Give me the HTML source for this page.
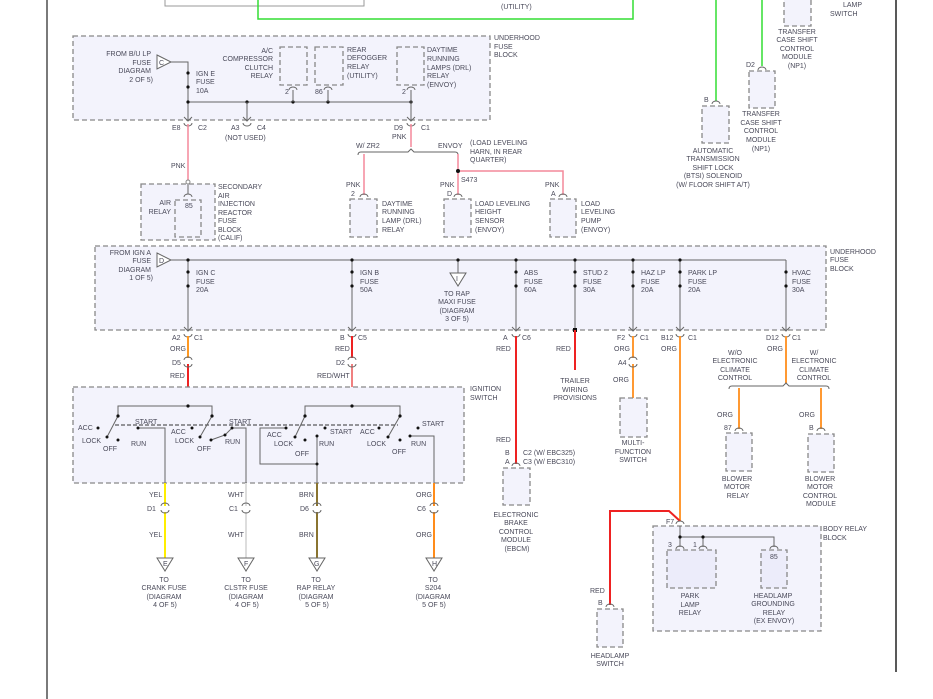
<!DOCTYPE html>
<html><head><meta charset="utf-8"><style>
body{margin:0;background:#fff;width:933px;height:699px;overflow:hidden}
svg{display:block}
text{font-family:"Liberation Sans",sans-serif;font-size:7px;fill:#4a4a5a}
.b{fill:#f3f3fc;stroke:#888;stroke-width:1.3;stroke-dasharray:5,3}
.w{stroke:#666;stroke-width:1;fill:none}
.d{fill:#111}
.m{text-anchor:middle}
.e{text-anchor:end}
</style></head><body>
<svg width="933" height="699" viewBox="0 0 933 699" xmlns="http://www.w3.org/2000/svg">
<line x1="47" y1="0" x2="47" y2="699" stroke="#222" stroke-width="1.2"/>
<line x1="896" y1="0" x2="896" y2="672" stroke="#222" stroke-width="1.5"/>
<!-- top -->
<polyline points="165,0 165,6 364,6 364,0" fill="none" stroke="#999" stroke-width="1"/>
<polyline points="258,0 258,19 633,19 633,0" fill="none" stroke="#33dd33" stroke-width="1.5"/>
<text x="501" y="9">(UTILITY)</text>
<line x1="716" y1="0" x2="716" y2="101" stroke="#33dd33" stroke-width="1.5"/>
<line x1="762" y1="0" x2="762" y2="66" stroke="#33dd33" stroke-width="1.5"/>
<rect class="b" x="784" y="-5" width="27" height="31"/>
<text x="843" y="7">LAMP</text><text x="830" y="16">SWITCH</text>
<g class="m"><text x="797" y="34">TRANSFER</text><text x="797" y="42">CASE SHIFT</text><text x="797" y="51">CONTROL</text><text x="797" y="59">MODULE</text><text x="797" y="68">(NP1)</text></g>
<text x="746" y="67">D2</text><path d="M758,70 a4,3 0 0 1 8,0" class="w"/>
<rect class="b" x="749" y="71" width="26" height="37"/>
<g class="m"><text x="761" y="116">TRANSFER</text><text x="761" y="125">CASE SHIFT</text><text x="761" y="133">CONTROL</text><text x="761" y="142">MODULE</text><text x="761" y="151">(NP1)</text></g>
<text x="704" y="102">B</text><path d="M712,104 a4,3 0 0 1 8,0" class="w"/>
<rect class="b" x="702" y="106" width="27" height="37"/>
<g class="m"><text x="713" y="153">AUTOMATIC</text><text x="713" y="161">TRANSMISSION</text><text x="713" y="170">SHIFT LOCK</text><text x="713" y="178">(BTSI) SOLENOID</text><text x="713" y="187">(W/ FLOOR SHIFT A/T)</text></g>

<!-- top fuse block -->
<rect class="b" x="73" y="36" width="417" height="84"/>
<text x="494" y="40">UNDERHOOD</text><text x="494" y="49">FUSE</text><text x="494" y="57">BLOCK</text>
<g class="e"><text x="151" y="56">FROM B/U LP</text><text x="151" y="65">FUSE</text><text x="151" y="73">DIAGRAM</text><text x="153" y="82">2 OF 5)</text></g>
<polygon points="157,55 171,62 157,69" fill="#fff" stroke="#666"/><text x="159" y="65">C</text>
<polyline points="171,62 188,62 188,120" class="w"/>
<circle cx="188" cy="73" r="1.6" class="d"/><circle cx="188" cy="87" r="1.6" class="d"/>
<text x="196" y="76">IGN E</text><text x="196" y="84">FUSE</text><text x="196" y="93">10A</text>
<line x1="188" y1="102" x2="411" y2="102" class="w"/>
<circle cx="188" cy="102" r="1.6" class="d"/><circle cx="247" cy="102" r="1.6" class="d"/><circle cx="293" cy="102" r="1.6" class="d"/><circle cx="328" cy="102" r="1.6" class="d"/><circle cx="411" cy="102" r="1.6" class="d"/>
<line x1="247" y1="102" x2="247" y2="120" class="w"/><line x1="293" y1="90" x2="293" y2="102" class="w"/><line x1="328" y1="90" x2="328" y2="102" class="w"/><line x1="411" y1="90" x2="411" y2="120" class="w"/>
<rect class="b" x="280" y="47" width="27" height="38"/><rect class="b" x="315" y="47" width="28" height="38"/><rect class="b" x="397" y="47" width="27" height="38"/>
<g class="e"><text x="273" y="53">A/C</text><text x="273" y="61">COMPRESSOR</text><text x="273" y="70">CLUTCH</text><text x="273" y="78">RELAY</text></g>
<text x="347" y="52">REAR</text><text x="347" y="60">DEFOGGER</text><text x="347" y="69">RELAY</text><text x="347" y="78">(UTILITY)</text>
<text x="427" y="52">DAYTIME</text><text x="427" y="61">RUNNING</text><text x="427" y="70">LAMPS (DRL)</text><text x="427" y="78">RELAY</text><text x="427" y="87">(ENVOY)</text>
<text x="285" y="94">2</text><text x="315" y="94">86</text><text x="402" y="94">2</text>
<path d="M289,90 a4,3 0 0 1 8,0 M324,90 a4,3 0 0 1 8,0 M407,90 a4,3 0 0 1 8,0" class="w"/>
<path d="M184,117 l4,4 l4,-4 M243,117 l4,4 l4,-4 M407,117 l4,4 l4,-4 M184,123 a4,3 0 0 0 8,0 M243,123 a4,3 0 0 0 8,0 M407,123 a4,3 0 0 0 8,0" class="w"/>
<text x="172" y="130">E8</text><text x="198" y="130">C2</text><text x="231" y="130">A3</text><text x="257" y="130">C4</text><text x="225" y="140">(NOT USED)</text>
<text x="394" y="130">D9</text><text x="421" y="130">C1</text><text x="392" y="139">PNK</text>
<line x1="188" y1="124" x2="188" y2="180" stroke="#f4899a" stroke-width="1.5"/>
<circle cx="188" cy="182" r="2" fill="#fff" stroke="#888"/>
<text x="171" y="168">PNK</text>
<rect class="b" x="141" y="184" width="74" height="56"/>
<rect class="b" x="175" y="200" width="26" height="37"/>
<path d="M184,197 a4,3 0 0 1 8,0" class="w"/><line x1="188" y1="184" x2="188" y2="194" class="w"/>
<text x="185" y="208">85</text>
<g class="e"><text x="171" y="205">AIR</text><text x="171" y="214">RELAY</text></g>
<text x="218" y="189">SECONDARY</text><text x="218" y="198">AIR</text><text x="218" y="206">INJECTION</text><text x="218" y="215">REACTOR</text><text x="218" y="223">FUSE</text><text x="218" y="232">BLOCK</text><text x="218" y="240">(CALIF)</text>
<line x1="411" y1="124" x2="411" y2="147" stroke="#f4899a" stroke-width="1.5"/>
<path d="M358,155 q0,-3 3,-3 L408,152 l3,-3 l3,3 L455,152 q3,0 3,3" class="w"/>
<text x="356" y="148">W/ ZR2</text><text x="438" y="148">ENVOY</text>
<text x="470" y="145">(LOAD LEVELING</text><text x="470" y="154">HARN, IN REAR</text><text x="470" y="162">QUARTER)</text>
<line x1="364" y1="154" x2="364" y2="195" stroke="#f4899a" stroke-width="1.5"/>
<line x1="458" y1="154" x2="458" y2="195" stroke="#f4899a" stroke-width="1.5"/>
<polyline points="458,171 563,171 563,195" fill="none" stroke="#f4899a" stroke-width="1.5"/>
<circle cx="458" cy="171" r="2" class="d"/><text x="461" y="182">S473</text>
<text x="346" y="187">PNK</text><text x="351" y="196">2</text><text x="440" y="187">PNK</text><text x="447" y="196">D</text><text x="545" y="187">PNK</text><text x="551" y="196">A</text>
<path d="M360,197 a4,3 0 0 1 8,0 M454,197 a4,3 0 0 1 8,0 M559,197 a4,3 0 0 1 8,0" class="w"/>
<rect class="b" x="350" y="199" width="27" height="38"/><rect class="b" x="444" y="199" width="27" height="38"/><rect class="b" x="550" y="199" width="26" height="38"/>
<text x="382" y="206">DAYTIME</text><text x="382" y="214">RUNNING</text><text x="382" y="223">LAMP (DRL)</text><text x="382" y="232">RELAY</text>
<text x="475" y="206">LOAD LEVELING</text><text x="475" y="214">HEIGHT</text><text x="475" y="223">SENSOR</text><text x="475" y="232">(ENVOY)</text>
<text x="581" y="206">LOAD</text><text x="581" y="214">LEVELING</text><text x="581" y="223">PUMP</text><text x="581" y="232">(ENVOY)</text>

<!-- second fuse block -->
<rect class="b" x="95" y="246" width="731" height="84"/>
<text x="830" y="254">UNDERHOOD</text><text x="830" y="262">FUSE</text><text x="830" y="271">BLOCK</text>
<g class="e"><text x="151" y="255">FROM IGN A</text><text x="151" y="263">FUSE</text><text x="151" y="272">DIAGRAM</text><text x="153" y="280">1 OF 5)</text></g>
<polygon points="157,253 171,260 157,267" fill="#fff" stroke="#666"/><text x="159" y="263">D</text>
<line x1="171" y1="260" x2="786" y2="260" class="w"/>
<g class="w">
<line x1="188" y1="260" x2="188" y2="330"/><line x1="352" y1="260" x2="352" y2="330"/><line x1="458" y1="260" x2="458" y2="273"/><line x1="516" y1="260" x2="516" y2="330"/><line x1="575" y1="260" x2="575" y2="330"/><line x1="633" y1="260" x2="633" y2="330"/><line x1="680" y1="260" x2="680" y2="330"/><line x1="786" y1="260" x2="786" y2="330"/>
</g>
<polygon points="450,273 466,273 458,286" fill="#fff" stroke="#666"/><text x="456" y="281">I</text>
<g class="m"><text x="457" y="296">TO RAP</text><text x="457" y="304">MAXI FUSE</text><text x="457" y="313">(DIAGRAM</text><text x="457" y="321">3 OF 5)</text></g>
<g class="d">
<circle cx="188" cy="260" r="1.6"/><circle cx="352" cy="260" r="1.6"/><circle cx="458" cy="260" r="1.6"/><circle cx="516" cy="260" r="1.6"/><circle cx="575" cy="260" r="1.6"/><circle cx="633" cy="260" r="1.6"/><circle cx="680" cy="260" r="1.6"/>
<circle cx="188" cy="272" r="1.6"/><circle cx="188" cy="286" r="1.6"/><circle cx="352" cy="272" r="1.6"/><circle cx="352" cy="286" r="1.6"/><circle cx="516" cy="272" r="1.6"/><circle cx="516" cy="286" r="1.6"/><circle cx="575" cy="272" r="1.6"/><circle cx="575" cy="286" r="1.6"/><circle cx="633" cy="272" r="1.6"/><circle cx="633" cy="286" r="1.6"/><circle cx="680" cy="272" r="1.6"/><circle cx="680" cy="286" r="1.6"/><circle cx="786" cy="272" r="1.6"/><circle cx="786" cy="286" r="1.6"/>
<rect x="573" y="328" width="4" height="4"/>
</g>
<text x="196" y="275">IGN C</text><text x="196" y="284">FUSE</text><text x="196" y="292">20A</text>
<text x="360" y="275">IGN B</text><text x="360" y="284">FUSE</text><text x="360" y="292">50A</text>
<text x="524" y="275">ABS</text><text x="524" y="284">FUSE</text><text x="524" y="292">60A</text>
<text x="583" y="275">STUD 2</text><text x="583" y="284">FUSE</text><text x="583" y="292">30A</text>
<text x="641" y="275">HAZ LP</text><text x="641" y="284">FUSE</text><text x="641" y="292">20A</text>
<text x="688" y="275">PARK LP</text><text x="688" y="284">FUSE</text><text x="688" y="292">20A</text>
<text x="792" y="275">HVAC</text><text x="792" y="284">FUSE</text><text x="792" y="292">30A</text>
<path d="M184,327 l4,4 l4,-4 M348,327 l4,4 l4,-4 M512,327 l4,4 l4,-4 M629,327 l4,4 l4,-4 M676,327 l4,4 l4,-4 M782,327 l4,4 l4,-4 M184,334 a4,3 0 0 0 8,0 M348,334 a4,3 0 0 0 8,0 M512,334 a4,3 0 0 0 8,0 M629,334 a4,3 0 0 0 8,0 M676,334 a4,3 0 0 0 8,0 M782,334 a4,3 0 0 0 8,0" class="w"/>
<text x="172" y="340">A2</text><text x="194" y="340">C1</text><text x="170" y="351">ORG</text><text x="172" y="365">D5</text><text x="170" y="378">RED</text>
<text x="340" y="340">B</text><text x="358" y="340">C5</text><text x="335" y="351">RED</text><text x="336" y="365">D2</text><text x="317" y="378">RED/WHT</text>
<text x="503" y="340">A</text><text x="522" y="340">C6</text><text x="496" y="351">RED</text><text x="556" y="351">RED</text>
<line x1="188" y1="336" x2="188" y2="358" stroke="#ff9922" stroke-width="2"/><line x1="188" y1="364" x2="188" y2="406" stroke="#ee2222" stroke-width="2"/>
<line x1="352" y1="336" x2="352" y2="358" stroke="#ee2222" stroke-width="2"/><line x1="352" y1="364" x2="352" y2="406" stroke="#f08080" stroke-width="2"/>
<path d="M184,360 a4,3 0 0 1 8,0 M184,364 a4,3 0 0 0 8,0 M348,360 a4,3 0 0 1 8,0 M348,364 a4,3 0 0 0 8,0" class="w"/>
<line x1="516" y1="336" x2="516" y2="464" stroke="#ee2222" stroke-width="2"/>
<line x1="575" y1="330" x2="575" y2="370" stroke="#ee2222" stroke-width="2"/>
<g class="m"><text x="575" y="383">TRAILER</text><text x="575" y="392">WIRING</text><text x="575" y="400">PROVISIONS</text></g>
<text x="496" y="442">RED</text><text x="505" y="455">B</text><text x="505" y="464">A</text><text x="523" y="455">C2 (W/ EBC325)</text><text x="523" y="464">C3 (W/ EBC310)</text>
<path d="M512,466 a4,3 0 0 1 8,0" class="w"/>
<rect class="b" x="503" y="468" width="27" height="37"/>
<g class="m"><text x="516" y="517">ELECTRONIC</text><text x="516" y="525">BRAKE</text><text x="516" y="534">CONTROL</text><text x="516" y="542">MODULE</text><text x="517" y="551">(EBCM)</text></g>
<text x="617" y="340">F2</text><text x="640" y="340">C1</text><text x="614" y="351">ORG</text><text x="618" y="365">A4</text><text x="613" y="382">ORG</text>
<line x1="633" y1="336" x2="633" y2="358" stroke="#ff9933" stroke-width="2"/><line x1="633" y1="364" x2="633" y2="398" stroke="#ff9933" stroke-width="2"/>
<path d="M629,360 a4,3 0 0 1 8,0 M629,364 a4,3 0 0 0 8,0" class="w"/>
<rect class="b" x="620" y="398" width="27" height="39"/>
<g class="m"><text x="633" y="445">MULTI-</text><text x="633" y="454">FUNCTION</text><text x="633" y="462">SWITCH</text></g>
<text x="661" y="340">B12</text><text x="688" y="340">C1</text><text x="661" y="351">ORG</text>
<line x1="680" y1="336" x2="680" y2="521" stroke="#ff9933" stroke-width="2"/>
<text x="766" y="340">D12</text><text x="792" y="340">C1</text><text x="767" y="351">ORG</text>
<line x1="786" y1="336" x2="786" y2="383" stroke="#ff9933" stroke-width="2"/>
<path d="M729,389 q0,-3 3,-3 L783,386 l3,-3 l3,3 L826,386 q3,0 3,3" class="w"/>
<g class="m"><text x="735" y="355">W/O</text><text x="735" y="363">ELECTRONIC</text><text x="735" y="372">CLIMATE</text><text x="735" y="380">CONTROL</text>
<text x="814" y="355">W/</text><text x="814" y="363">ELECTRONIC</text><text x="814" y="372">CLIMATE</text><text x="814" y="380">CONTROL</text></g>
<line x1="739" y1="388" x2="739" y2="429" stroke="#ff9933" stroke-width="2"/><line x1="821" y1="388" x2="821" y2="429" stroke="#ff9933" stroke-width="2"/>
<text x="717" y="417">ORG</text><text x="799" y="417">ORG</text><text x="724" y="430">87</text><text x="809" y="430">B</text>
<path d="M735,431 a4,3 0 0 1 8,0 M817,431 a4,3 0 0 1 8,0" class="w"/>
<rect class="b" x="726" y="433" width="26" height="38"/><rect class="b" x="808" y="434" width="26" height="38"/>
<g class="m"><text x="737" y="481">BLOWER</text><text x="737" y="489">MOTOR</text><text x="738" y="498">RELAY</text>
<text x="820" y="481">BLOWER</text><text x="820" y="489">MOTOR</text><text x="820" y="498">CONTROL</text><text x="821" y="506">MODULE</text></g>

<!-- ignition switch -->
<rect class="b" x="73" y="387" width="391" height="96"/>
<text x="470" y="391">IGNITION</text><text x="470" y="400">SWITCH</text>
<line x1="115" y1="425" x2="398" y2="425" stroke="#333" stroke-width="1" stroke-dasharray="4,2"/>
<g class="w" stroke="#333">
<polyline points="118,416 118,406 212,406 212,416"/>
<polyline points="305,416 305,406 400,406 400,416"/>
<line x1="118" y1="416" x2="107" y2="437"/><line x1="212" y1="416" x2="200" y2="437"/>
<line x1="305" y1="416" x2="295" y2="437"/><line x1="400" y1="416" x2="388" y2="437"/>
<polyline points="138,428 165,428 165,483"/>
<polyline points="211,440 225,435 232,428 246,428 246,483"/>
<polyline points="286,428 260,428 260,464 317,464"/>
<polyline points="317,436 317,483"/>
<polyline points="410,436 434,436 434,483"/>
</g>
<g class="d">
<circle cx="118" cy="416" r="1.6"/><circle cx="212" cy="416" r="1.6"/><circle cx="305" cy="416" r="1.6"/><circle cx="400" cy="416" r="1.6"/><circle cx="188" cy="406" r="1.6"/><circle cx="352" cy="406" r="1.6"/>
<circle cx="98" cy="428" r="1.5"/><circle cx="107" cy="437" r="1.5"/><circle cx="118" cy="440" r="1.5"/><circle cx="138" cy="428" r="1.5"/>
<circle cx="192" cy="428" r="1.5"/><circle cx="200" cy="437" r="1.5"/><circle cx="211" cy="440" r="1.5"/><circle cx="232" cy="428" r="1.5"/><circle cx="225" cy="435" r="1.5"/>
<circle cx="286" cy="428" r="1.5"/><circle cx="295" cy="437" r="1.5"/><circle cx="305" cy="440" r="1.5"/><circle cx="317" cy="436" r="1.5"/><circle cx="325" cy="428" r="1.5"/><circle cx="317" cy="464" r="1.5"/>
<circle cx="379" cy="428" r="1.5"/><circle cx="388" cy="437" r="1.5"/><circle cx="400" cy="440" r="1.5"/><circle cx="410" cy="436" r="1.5"/><circle cx="418" cy="428" r="1.5"/>
</g>
<text x="78" y="430">ACC</text><text x="82" y="443">LOCK</text><text x="103" y="451">OFF</text><text x="131" y="446">RUN</text><text x="135" y="424">START</text>
<text x="171" y="434">ACC</text><text x="175" y="443">LOCK</text><text x="197" y="451">OFF</text><text x="225" y="444">RUN</text><text x="229" y="424">START</text>
<text x="267" y="437">ACC</text><text x="274" y="446">LOCK</text><text x="295" y="456">OFF</text><text x="319" y="446">RUN</text><text x="330" y="434">START</text>
<text x="360" y="434">ACC</text><text x="367" y="446">LOCK</text><text x="392" y="454">OFF</text><text x="411" y="446">RUN</text><text x="422" y="426">START</text>

<!-- bottom outputs -->
<line x1="165" y1="483" x2="165" y2="506" stroke="#ffee00" stroke-width="2"/><line x1="165" y1="512" x2="165" y2="558" stroke="#ffee00" stroke-width="2"/>
<line x1="246" y1="483" x2="246" y2="506" stroke="#ddd" stroke-width="2"/><line x1="246" y1="512" x2="246" y2="558" stroke="#ddd" stroke-width="2"/>
<line x1="317" y1="483" x2="317" y2="506" stroke="#8a7430" stroke-width="2"/><line x1="317" y1="512" x2="317" y2="558" stroke="#8a7430" stroke-width="2"/>
<line x1="434" y1="483" x2="434" y2="506" stroke="#ff8c1a" stroke-width="2"/><line x1="434" y1="512" x2="434" y2="558" stroke="#ff8c1a" stroke-width="2"/>
<path d="M161,506 a4,3 0 0 1 8,0 M161,510 a4,3 0 0 0 8,0 M242,506 a4,3 0 0 1 8,0 M242,510 a4,3 0 0 0 8,0 M313,506 a4,3 0 0 1 8,0 M313,510 a4,3 0 0 0 8,0 M430,506 a4,3 0 0 1 8,0 M430,510 a4,3 0 0 0 8,0" class="w"/>
<text x="149" y="497">YEL</text><text x="147" y="511">D1</text><text x="149" y="537">YEL</text>
<text x="228" y="497">WHT</text><text x="229" y="511">C1</text><text x="228" y="537">WHT</text>
<text x="299" y="497">BRN</text><text x="300" y="511">D6</text><text x="299" y="537">BRN</text>
<text x="416" y="497">ORG</text><text x="417" y="511">C6</text><text x="416" y="537">ORG</text>
<polygon points="157,558 173,558 165,571" fill="#fff" stroke="#666"/><text x="163" y="566">E</text>
<polygon points="238,558 254,558 246,571" fill="#fff" stroke="#666"/><text x="244" y="566">F</text>
<polygon points="309,558 325,558 317,571" fill="#fff" stroke="#666"/><text x="314" y="566">G</text>
<polygon points="426,558 442,558 434,571" fill="#fff" stroke="#666"/><text x="432" y="566">H</text>
<g class="m">
<text x="164" y="582">TO</text><text x="164" y="590">CRANK FUSE</text><text x="164" y="599">(DIAGRAM</text><text x="165" y="607">4 OF 5)</text>
<text x="246" y="582">TO</text><text x="246" y="590">CLSTR FUSE</text><text x="246" y="599">(DIAGRAM</text><text x="247" y="607">4 OF 5)</text>
<text x="316" y="582">TO</text><text x="316" y="590">RAP RELAY</text><text x="316" y="599">(DIAGRAM</text><text x="317" y="607">5 OF 5)</text>
<text x="433" y="582">TO</text><text x="433" y="590">S204</text><text x="433" y="599">(DIAGRAM</text><text x="434" y="607">5 OF 5)</text>
</g>

<!-- body relay block -->
<polyline points="680,521 669,511 610,511 610,605" fill="none" stroke="#ee2222" stroke-width="2"/>
<rect class="b" x="653" y="526" width="168" height="105"/>
<text x="823" y="531">BODY RELAY</text><text x="823" y="540">BLOCK</text>
<text x="666" y="524">F7</text>
<path d="M676,524 a4,3 0 0 1 8,0" class="w"/>
<polyline points="680,526 680,537 774,537 774,547" class="w" stroke="#333"/>
<line x1="680" y1="537" x2="680" y2="547" class="w"/><line x1="703" y1="537" x2="703" y2="547" class="w"/>
<circle cx="680" cy="537" r="1.6" class="d"/><circle cx="703" cy="537" r="1.6" class="d"/>
<path d="M676,549 a4,3 0 0 1 8,0 M699,549 a4,3 0 0 1 8,0 M770,549 a4,3 0 0 1 8,0" class="w"/>
<text x="668" y="547">3</text><text x="693" y="547">1</text>
<rect class="b" x="667" y="550" width="49" height="38" style="fill:#ececfa"/>
<rect class="b" x="761" y="550" width="26" height="38" style="fill:#ececfa"/>
<text x="770" y="559">85</text>
<g class="m"><text x="690" y="598">PARK</text><text x="690" y="607">LAMP</text><text x="690" y="615">RELAY</text>
<text x="773" y="598">HEADLAMP</text><text x="773" y="606">GROUNDING</text><text x="774" y="615">RELAY</text><text x="774" y="623">(EX ENVOY)</text></g>
<text x="590" y="593">RED</text><text x="598" y="605">B</text>
<path d="M606,607 a4,3 0 0 1 8,0" class="w"/>
<rect class="b" x="597" y="609" width="26" height="38"/>
<g class="m"><text x="610" y="658">HEADLAMP</text><text x="610" y="666">SWITCH</text></g>
</svg>
</body></html>
